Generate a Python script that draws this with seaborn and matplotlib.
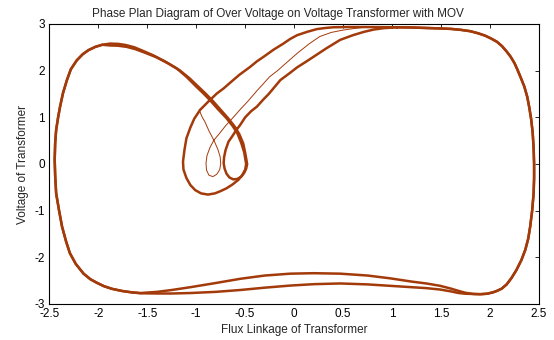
import numpy as np
import pandas as pd
import matplotlib
matplotlib.use("Agg")
import matplotlib.pyplot as plt
import seaborn as sns

# ---------------- data (flux, voltage) ----------------
# shared path: top plateau -> right side -> bottom-right minimum
top_right_x = [1.05, 1.20, 1.35, 1.49, 1.60, 1.70, 1.80, 1.88, 1.95, 2.01,
               2.07, 2.12, 2.17, 2.21, 2.25, 2.28, 2.31, 2.35, 2.38, 2.40,
               2.42, 2.435, 2.445, 2.45, 2.45, 2.445, 2.43, 2.41, 2.39, 2.36,
               2.32, 2.27, 2.22, 2.17, 2.12, 2.07, 2.03, 1.97, 1.90, 1.83]
top_right_y = [2.93, 2.925, 2.915, 2.905, 2.895, 2.875, 2.845, 2.80, 2.75, 2.69,
               2.62, 2.53, 2.41, 2.30, 2.16, 2.02, 1.87, 1.66, 1.44, 1.22,
               0.96, 0.68, 0.35, 0.0, -0.30, -0.63, -1.00, -1.34, -1.60, -1.84,
               -2.06, -2.27, -2.44, -2.58, -2.67, -2.72, -2.75, -2.78, -2.79, -2.785]

# two bottom paths (right to left)
bottom_x = [1.75, 1.68, 1.60, 1.49, 1.35, 1.20, 0.98, 0.75, 0.47, 0.20, -0.04, -0.30, -0.55,
            -0.80, -1.06, -1.25, -1.40, -1.57]
bottom_a_y = [-2.76, -2.72, -2.67, -2.61, -2.56, -2.52, -2.45, -2.39, -2.35, -2.34, -2.35, -2.39,
              -2.46, -2.55, -2.64, -2.70, -2.74, -2.765]
bottom_b_y = [-2.78, -2.765, -2.73, -2.69, -2.66, -2.64, -2.61, -2.58, -2.56, -2.575, -2.605,
              -2.65, -2.70, -2.74, -2.765, -2.775, -2.775, -2.77]

# shared left side going up, over the left peak
left_x = [-1.66, -1.76, -1.86, -1.94, -2.01, -2.08, -2.15, -2.23, -2.29, -2.33, -2.37, -2.40,
          -2.43, -2.44, -2.445, -2.44, -2.43, -2.41, -2.39, -2.36, -2.32, -2.28, -2.22, -2.16,
          -2.10, -2.03, -1.96]
left_y = [-2.75, -2.72, -2.675, -2.62, -2.55, -2.47, -2.35, -2.14, -1.91, -1.65, -1.34, -1.00,
          -0.63, -0.25, 0.09, 0.45, 0.73, 1.00, 1.23, 1.52, 1.80, 2.03, 2.22, 2.35, 2.44, 2.51,
          2.555]

# two descending arcs from the left peak
desc_a_x = [-1.88, -1.80, -1.72, -1.63, -1.55, -1.44, -1.32, -1.20, -1.10, -1.00, -0.93, -0.86,
            -0.78, -0.69, -0.63, -0.58, -0.54, -0.51, -0.49]
desc_a_y = [2.58, 2.575, 2.55, 2.50, 2.43, 2.33, 2.20, 2.05, 1.87, 1.66, 1.52, 1.37, 1.18, 0.98,
            0.82, 0.66, 0.45, 0.25, 0.0]
desc_b_x = [-1.88, -1.80, -1.71, -1.62, -1.53, -1.41, -1.29, -1.17, -1.07, -0.97, -0.90, -0.83,
            -0.75, -0.67, -0.61, -0.56, -0.52, -0.50, -0.48]
desc_b_y = [2.54, 2.535, 2.51, 2.46, 2.39, 2.29, 2.16, 2.01, 1.84, 1.64, 1.50, 1.35, 1.16, 0.97,
            0.81, 0.64, 0.44, 0.24, 0.0]

# large loop + outer ascending band
loop_big_x = [-0.50, -0.53, -0.57, -0.63, -0.69, -0.75, -0.81, -0.88, -0.95, -1.01, -1.06, -1.10,
              -1.13, -1.135, -1.12, -1.10, -1.06, -1.02, -0.96, -0.88, -0.79, -0.72, -0.66,
              -0.56, -0.45, -0.38, -0.31, -0.21, -0.11, -0.04, 0.03, 0.13, 0.23, 0.32, 0.40,
              0.55, 0.75, 1.05]
loop_big_y = [-0.12, -0.24, -0.34, -0.44, -0.52, -0.58, -0.63, -0.655, -0.63, -0.56, -0.45, -0.30,
              -0.12, 0.05, 0.30, 0.55, 0.78, 0.97, 1.16, 1.33, 1.51, 1.62, 1.73, 1.91, 2.08,
              2.20, 2.30, 2.45, 2.58, 2.68, 2.76, 2.83, 2.89, 2.915, 2.93, 2.935, 2.935, 2.93]

# small loop + inner ascending band
loop_small_x = [-0.49, -0.51, -0.54, -0.58, -0.62, -0.66, -0.69, -0.71, -0.72, -0.715, -0.70,
                -0.67, -0.63, -0.59, -0.55, -0.50, -0.44, -0.38, -0.32, -0.26, -0.20, -0.14,
                -0.05, 0.03, 0.12, 0.20, 0.33, 0.47, 0.60, 0.71, 0.81, 0.91, 1.05]
loop_small_y = [-0.10, -0.19, -0.27, -0.32, -0.33, -0.29, -0.21, -0.10, 0.02, 0.15, 0.30, 0.48,
                0.60, 0.73, 0.84, 1.00, 1.13, 1.23, 1.37, 1.50, 1.65, 1.80, 1.94, 2.07, 2.19,
                2.30, 2.48, 2.66, 2.76, 2.83, 2.88, 2.91, 2.93]

# thin transient trace
trans_x = [-0.97, -0.94, -0.91, -0.87, -0.82, -0.78, -0.755, -0.75, -0.76, -0.79, -0.83, -0.87,
           -0.895, -0.90, -0.89, -0.86, -0.82, -0.76, -0.70, -0.63, -0.55, -0.47, -0.38, -0.31,
           -0.25, -0.17, -0.10, 0.03, 0.15, 0.26, 0.38, 0.50, 0.60, 0.70, 0.85, 1.05]
trans_y = [1.16, 1.01, 0.90, 0.71, 0.51, 0.32, 0.15, 0.0, -0.12, -0.22, -0.27, -0.24, -0.13,
           0.02, 0.18, 0.35, 0.51, 0.66, 0.82, 0.98, 1.17, 1.35, 1.57, 1.73, 1.87, 2.00, 2.13,
           2.37, 2.57, 2.73, 2.82, 2.87, 2.90, 2.925, 2.93, 2.93]

x_ticks = [-2.5, -2, -1.5, -1, -0.5, 0, 0.5, 1, 1.5, 2, 2.5]
x_tick_labels = ["-2.5", "-2", "-1.5", "-1", "-0.5", "0", "0.5", "1", "1.5", "2", "2.5"]
y_ticks = [-3, -2, -1, 0, 1, 2, 3]
y_tick_labels = ["-3", "-2", "-1", "0", "1", "2", "3"]

title = "Phase Plan Diagram of Over Voltage on Voltage Transformer with MOV"
xlabel = "Flux Linkage of Transformer"
ylabel = "Voltage of Transformer"

# ---------------- build the trajectories ----------------
cycle1 = pd.DataFrame({
    "x": top_right_x + bottom_x + left_x + desc_a_x + loop_big_x,
    "y": top_right_y + bottom_a_y + left_y + desc_a_y + loop_big_y})
cycle2 = pd.DataFrame({
    "x": top_right_x + bottom_x + left_x + desc_b_x + loop_small_x,
    "y": top_right_y + bottom_b_y + left_y + desc_b_y + loop_small_y})
transient = pd.DataFrame({"x": trans_x, "y": trans_y})

# ---------------- plot ----------------
sns.set_style("white")
plt.rcParams["font.family"] = ["Liberation Sans", "DejaVu Sans"]

C = "#A33A0A"
fig = plt.figure(figsize=(5.54, 3.40), dpi=100)
ax = fig.add_axes([49.3 / 554, 36 / 340, 489.7 / 554, 280 / 340])

for df, lw in [(cycle1, 1.8), (cycle2, 1.8), (transient, 0.7)]:
    sns.lineplot(data=df, x="x", y="y", sort=False, estimator=None, ax=ax,
                 color=C, linewidth=lw)
for ln in ax.get_lines():
    ln.set_solid_joinstyle("round")
    ln.set_solid_capstyle("round")

ax.set_xlim(-2.5, 2.5)
ax.set_ylim(-3, 3)
ax.set_xticks(x_ticks)
ax.set_xticklabels(x_tick_labels)
ax.set_yticks(y_ticks)
ax.set_yticklabels(y_tick_labels)
ax.tick_params(direction="in", top=True, right=True, length=3, width=0.6,
               labelsize=8.5, pad=3, colors="black")
for s in ax.spines.values():
    s.set_visible(True)
    s.set_color("black")
    s.set_linewidth(0.8)

ax.set_title(title, fontsize=8.5, x=0.466, pad=5)
ax.set_xlabel(xlabel, fontsize=8.5, labelpad=3)
ax.set_ylabel(ylabel, fontsize=8.5, labelpad=4)

fig.savefig("out.png", dpi=100, facecolor="white")
